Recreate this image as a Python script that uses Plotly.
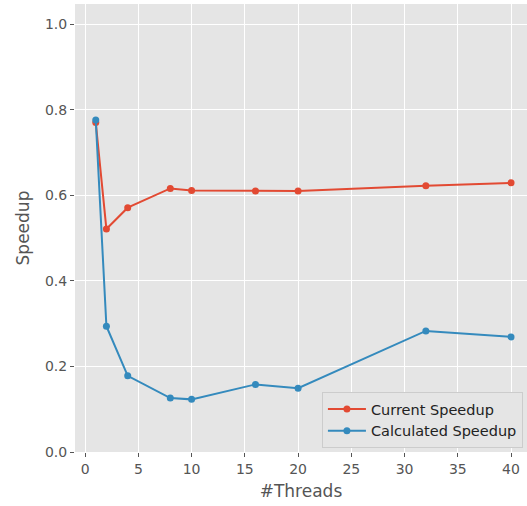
import plotly.graph_objects as go

threads = [1, 2, 4, 8, 10, 16, 20, 32, 40]
current_speedup = [0.770, 0.521, 0.571, 0.616, 0.611, 0.610, 0.610, 0.622, 0.629]
calculated_speedup = [0.776, 0.294, 0.178, 0.126, 0.123, 0.158, 0.149, 0.283, 0.269]

RED = "#E24A33"
BLUE = "#348ABD"
FONT = "DejaVu Sans"

fig = go.Figure()
fig.add_trace(go.Scatter(x=threads, y=current_speedup, mode="lines+markers",
                         name="Current Speedup",
                         line=dict(color=RED, width=2),
                         marker=dict(color=RED, size=7)))
fig.add_trace(go.Scatter(x=threads, y=calculated_speedup, mode="lines+markers",
                         name="Calculated Speedup",
                         line=dict(color=BLUE, width=2),
                         marker=dict(color=BLUE, size=7)))

axis_common = dict(showgrid=True, gridcolor="white", gridwidth=1.2,
                   zeroline=False, showline=False,
                   ticks="outside", ticklen=4, tickwidth=1, tickcolor="#555555",
                   tickfont=dict(family=FONT, size=14, color="#555555"),
                   title_font=dict(family=FONT, size=17, color="#555555"))

fig.update_xaxes(range=[-0.95, 41.5], tickvals=[0, 5, 10, 15, 20, 25, 30, 35, 40],
                 title_text="#Threads", title_standoff=9, **axis_common)
fig.update_yaxes(range=[0, 1.047], tickvals=[0, 0.2, 0.4, 0.6, 0.8, 1.0],
                 tickformat=".1f", title_text="Speedup", title_standoff=10, **axis_common)

fig.update_layout(
    width=527, height=506,
    margin=dict(l=75, r=0, t=4, b=54),
    plot_bgcolor="#E5E5E5",
    paper_bgcolor="white",
    font=dict(family=FONT, color="#555555"),
    legend=dict(x=0.991, y=0.009, xanchor="right", yanchor="bottom",
                bgcolor="#E5E5E5", bordercolor="#CCCCCC", borderwidth=1,
                font=dict(family=FONT, size=14.5, color="#222222"),
                itemwidth=38, tracegroupgap=0),
    showlegend=True,
)

fig.write_html("out.html")
